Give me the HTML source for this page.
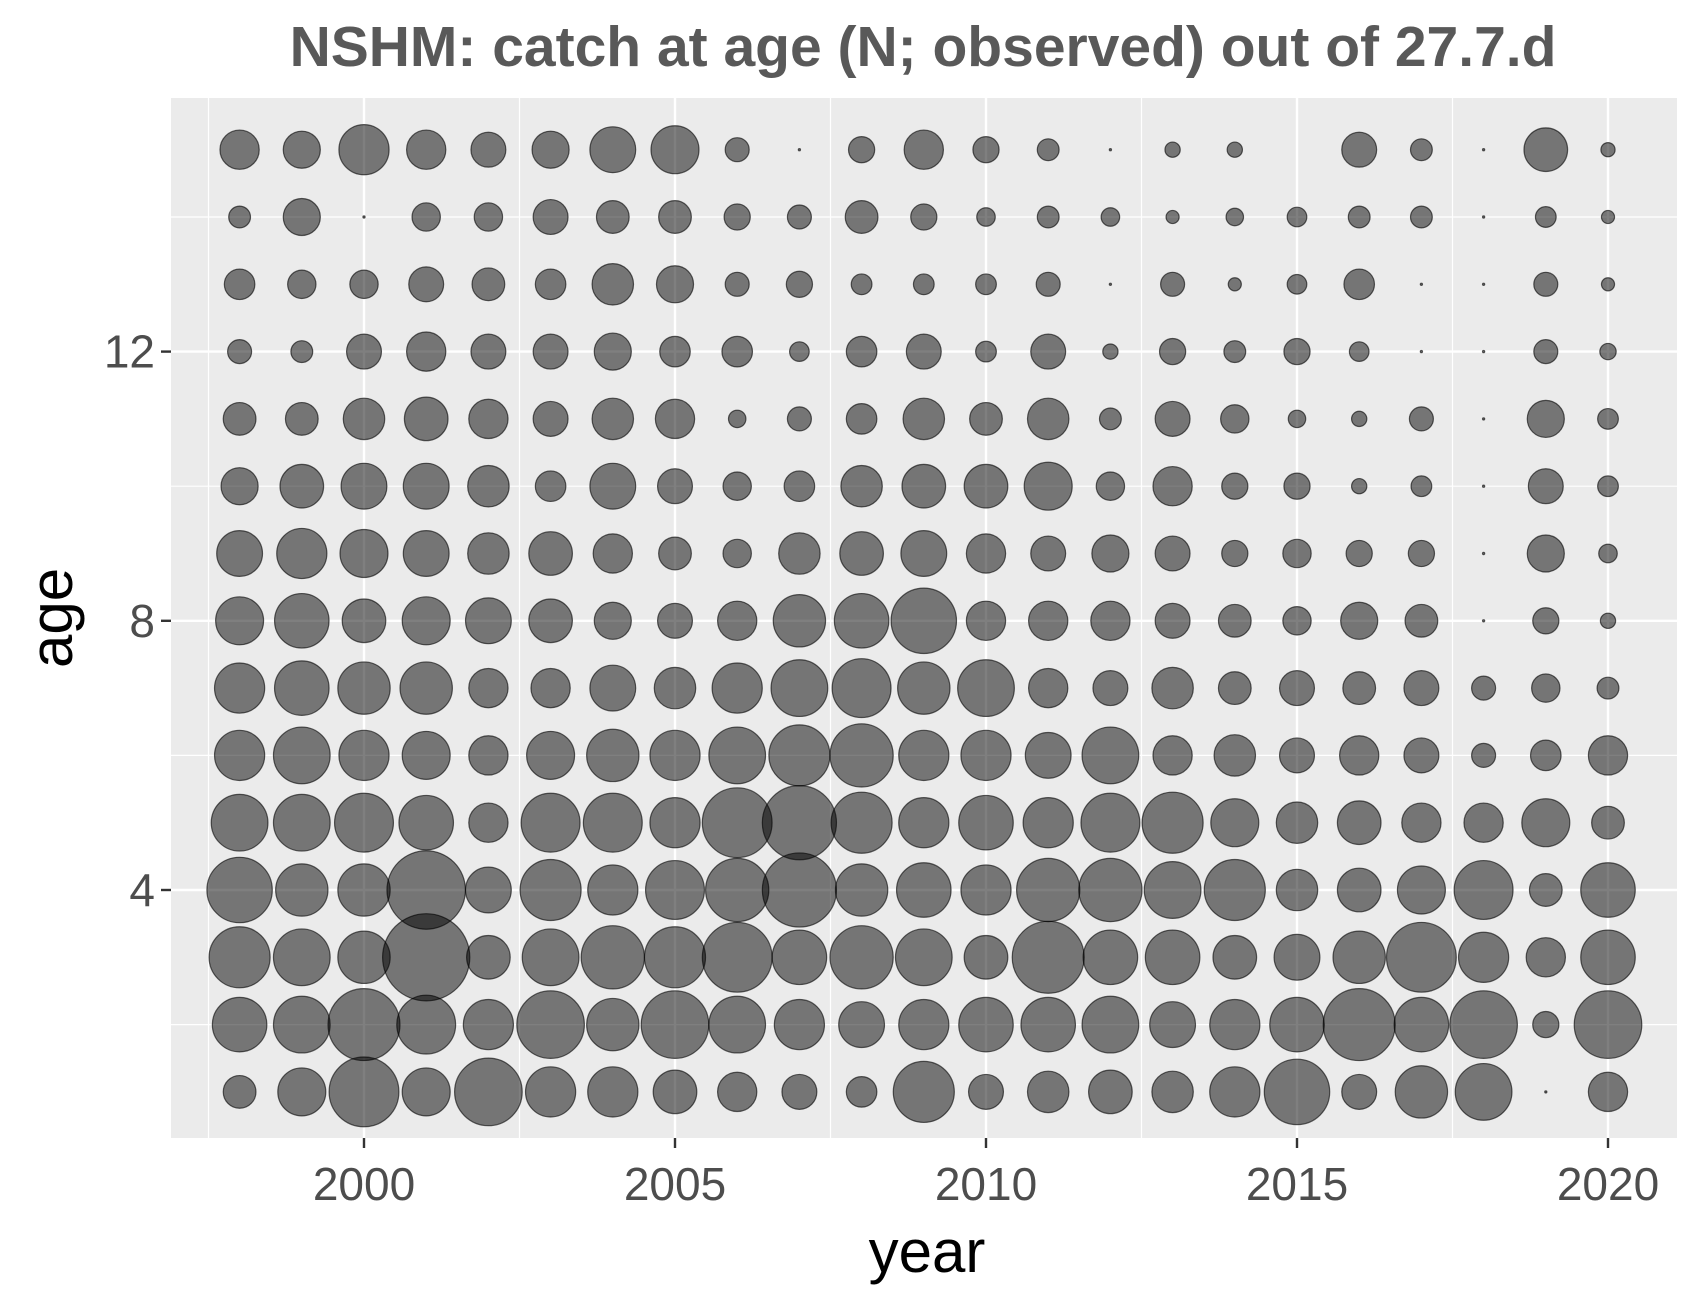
<!DOCTYPE html>
<html><head><meta charset="utf-8">
<style>
html,body{margin:0;padding:0;background:#fff;width:1700px;height:1300px;overflow:hidden}
svg{display:block}
text{font-family:"Liberation Sans",Arial,sans-serif}
</style></head>
<body>
<svg id="chart" width="1700" height="1300" viewBox="0 0 1700 1300">
<text x="923" y="66" text-anchor="middle" font-size="57" font-weight="bold" fill="#595959">NSHM: catch at age (N; observed) out of 27.7.d</text>
<rect x="171" y="98" width="1506" height="1040" fill="#ebebeb"/>
<g id="grid"></g>
<g id="points"></g>
<g id="axes"></g>
<text x="927" y="1272" text-anchor="middle" font-size="60" fill="#000">year</text>
<text transform="translate(72,618) rotate(-90)" text-anchor="middle" font-size="60" fill="#000">age</text>
</svg>
<script>
const years = [1998,1999,2000,2001,2002,2003,2004,2005,2006,2007,2008,2009,2010,2011,2012,2013,2014,2015,2016,2017,2018,2019,2020];
const ages = [15,14,13,12,11,10,9,8,7,6,5,4,3,2,1];
const sizeAge15 = [36,34,46,36,32,34,42,44,22,2,24,36,24,20,2,14,14,0,32,20,2,40,13];
const sizeAge14 = [20,34,2,26,26,32,30,30,24,22,30,24,17,20,17,12,16,18,20,20,2,19,12];
const sizeAge13 = [28,26,26,32,30,28,38,34,22,24,19,19,19,22,2,22,12,18,28,2,2,22,12];
const sizeAge12 = [22,20,32,36,32,32,34,28,28,18,28,32,19,32,14,24,20,24,18,2,2,22,15];
const sizeAge11 = [30,30,38,40,36,32,38,36,16,22,28,38,30,38,20,32,26,16,14,22,2,34,19];
const sizeAge10 = [34,40,42,42,38,28,42,32,26,28,38,40,40,44,26,36,24,24,14,19,2,32,19];
const sizeAge9 = [42,46,44,42,38,40,36,30,26,38,40,42,36,32,34,32,24,26,24,24,2,34,17];
const sizeAge8 = [44,50,40,44,42,40,34,32,36,48,50,60,36,36,36,32,30,26,34,30,2,24,14];
const sizeAge7 = [46,50,48,48,36,36,42,38,46,52,54,48,52,36,32,38,30,32,30,32,22,26,20];
const sizeAge6 = [46,52,46,44,36,44,48,46,52,56,58,46,46,42,52,36,38,32,36,32,22,28,36];
const sizeAge5 = [52,52,54,50,36,54,54,46,64,68,56,46,50,46,54,56,44,38,40,36,36,44,30];
const sizeAge4 = [60,48,48,72,42,56,46,54,58,68,48,50,46,58,58,52,56,38,40,44,54,30,50];
const sizeAge3 = [56,52,48,80,40,52,58,56,64,50,58,52,40,66,50,50,40,42,48,64,46,36,50];
const sizeAge2 = [50,52,66,54,46,62,48,62,52,46,42,46,50,50,52,42,46,50,66,50,62,24,62];
const sizeAge1 = [30,44,64,44,62,46,46,40,36,32,28,56,32,38,40,38,46,60,32,48,52,2,36];
const sizeRows = [sizeAge15,sizeAge14,sizeAge13,sizeAge12,sizeAge11,sizeAge10,sizeAge9,sizeAge8,sizeAge7,sizeAge6,sizeAge5,sizeAge4,sizeAge3,sizeAge2,sizeAge1];
const xTicks = [2000,2005,2010,2015,2020];
const yTicks = [4,8,12];

const NS='http://www.w3.org/2000/svg';
const PL=171,PR=1677,PT=98,PB=1138;
function xScale(y){return 364+(y-2000)*62.2;}
function yScale(a){return 890-(a-4)*67.3;}
function rScale(v){return v*1.09/2;}
function mk(tag,attrs,parent){const e=document.createElementNS(NS,tag);for(const k in attrs)e.setAttribute(k,attrs[k]);parent.appendChild(e);return e;}

const grid=document.getElementById('grid');
for(let i=0;i<xTicks.length;i++){
  const x=xScale(xTicks[i]);
  const l=mk('line',{x1:x,x2:x,y1:PT,y2:PB,stroke:'#fff','stroke-width':2.4},grid);
  
  
  const xm=xScale(xTicks[i]-2.5);
  const m=mk('line',{x1:xm,x2:xm,y1:PT,y2:PB,stroke:'#fff','stroke-width':1.2},grid);
  
  
}
{
  const xm=xScale(xTicks[xTicks.length-1]+2.5);
  if(xm<PR){const m=mk('line',{x1:xm,x2:xm,y1:PT,y2:PB,stroke:'#fff','stroke-width':1.2},grid);
  
  }
}
for(let i=0;i<yTicks.length;i++){
  const y=yScale(yTicks[i]);
  const l=mk('line',{x1:PL,x2:PR,y1:y,y2:y,stroke:'#fff','stroke-width':2.4},grid);
  
  
}
[2,6,10,14].forEach(a=>{
  const y=yScale(a);
  const m=mk('line',{x1:PL,x2:PR,y1:y,y2:y,stroke:'#fff','stroke-width':1.2},grid);
  
  
});

const pts=document.getElementById('points');
for(let r=0;r<ages.length;r++){
  for(let c=0;c<years.length;c++){
    const v=sizeRows[r][c];
    if(!(v>0))continue;
    const ci=mk('circle',{cx:xScale(years[c]),cy:yScale(ages[r]),r:rScale(v),fill:'rgba(0,0,0,0.5)',stroke:'rgba(0,0,0,0.6)','stroke-width':1.2},pts);
    
    
  }
}

const ax=document.getElementById('axes');
xTicks.forEach(t=>{
  const x=xScale(t);
  const tk=mk('line',{x1:x,x2:x,y1:PB,y2:PB+10,stroke:'#333','stroke-width':2.4},ax);
  
  
  const tx=mk('text',{x:x,y:PB+62,'text-anchor':'middle','font-size':46,fill:'#4d4d4d'},ax);
  tx.textContent=t;
  
  
});
yTicks.forEach(t=>{
  const y=yScale(t);
  const tk=mk('line',{x1:PL-10,x2:PL,y1:y,y2:y,stroke:'#333','stroke-width':2.4},ax);
  
  
  const tx=mk('text',{x:PL-16,y:y+16,'text-anchor':'end','font-size':46,fill:'#4d4d4d'},ax);
  tx.textContent=t;
  
  
});
</script>
</body></html>
